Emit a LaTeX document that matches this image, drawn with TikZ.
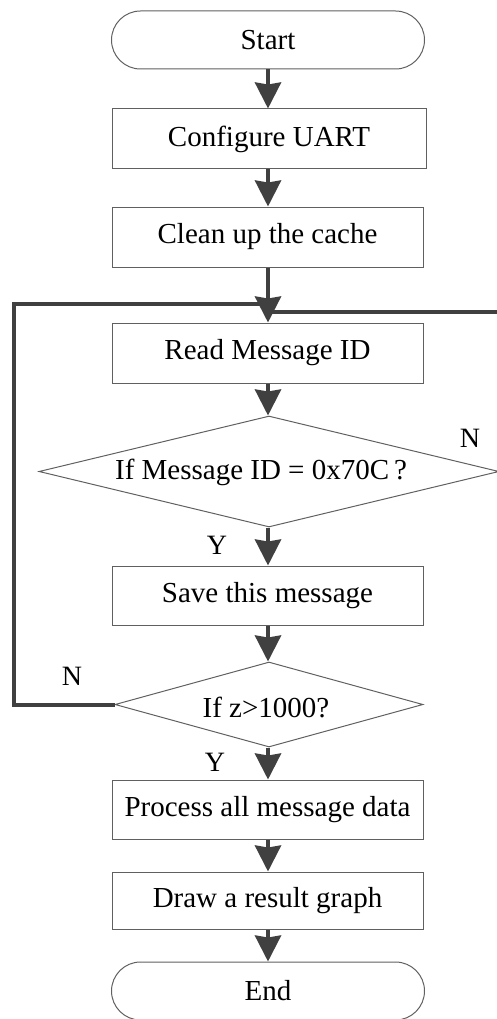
\documentclass[tikz,border=0pt]{standalone}
\usepackage{fontspec}
\setmainfont{Liberation Serif}
\usetikzlibrary{arrows.meta,shapes.geometric}
\definecolor{boxline}{HTML}{606060}
\definecolor{flowline}{HTML}{404040}
\begin{document}
\begin{tikzpicture}[x=1pt,y=-1pt,
  every node/.style={font=\fontsize{29}{34}\selectfont, inner sep=0pt},
  stepbox/.style={draw=boxline, line width=1pt, rectangle, minimum width=311pt},
  terminal/.style={draw=boxline, line width=1pt, rectangle, rounded corners=29pt,
                   minimum width=313pt, minimum height=58pt},
  decision/.style={draw=boxline, line width=1pt, diamond},
  flow/.style={draw=flowline, line width=4pt,
               -{Stealth[length=26pt,width=26pt,inset=2pt]}},
  loopline/.style={draw=flowline, line width=4pt},
  tag/.style={font=\fontsize{28}{32}\selectfont}]
\useasboundingbox (0,0) rectangle (496,1019);

% process nodes
\node[terminal] (start) at (268,40) {Start};
\node[stepbox, minimum height=60pt, minimum width=314pt] (conf) at (269,139) {Configure UART};
\node[stepbox, minimum height=60pt] (clean) at (267.5,237) {Clean up the cache};
\node[stepbox, minimum height=60pt] (read) at (267.5,353) {Read Message ID};
\node[decision, minimum width=460pt, minimum height=111pt] (d1) at (269,471.5) {};
\node (d1text) at (261,472) {If Message ID = 0x70C\,?};
\node[stepbox, minimum height=59pt] (save) at (267.5,595.5) {Save this message};
\node[decision, minimum width=308pt, minimum height=85pt] (d2) at (269,704.5) {};
\node (d2text) at (266,707) {If z>1000?};
\node[stepbox, minimum height=59pt] (proc) at (267.5,809.5) {Process all message data};
\node[stepbox, minimum height=57pt] (graph) at (267.5,900.5) {Draw a result graph};
\node[terminal] (end) at (268,991) {End};

% branch labels
\node[tag] (n1) at (470,438) {N};
\node[tag] (y1) at (217,545) {Y};
\node[tag] (n2) at (72,676) {N};
\node[tag] (y2) at (215,762) {Y};

% junction points of the two loops
\coordinate (jl) at (268,304);
\coordinate (jr) at (268,312);
\coordinate (lc) at (14,304);
\coordinate (rc) at (500,312);

% main flow
\draw[flow] (start.south -| 268,0) -- (conf.north -| 268,0);
\draw[flow] (conf.south -| 268,0) -- (clean.north -| 268,0);
\draw[flow] (clean.south -| 268,0) -- (read.north -| 268,0);
\draw[flow] (read.south -| 268,0) -- (d1.north -| 268,0);
\draw[flow] (d1.south -| 268,0) -- (save.north -| 268,0);
\draw[flow] (save.south -| 268,0) -- (d2.north -| 268,0);
\draw[flow] (d2.south -| 268,0) -- (proc.north -| 268,0);
\draw[flow] (proc.south -| 268,0) -- (graph.north -| 268,0);
\draw[flow] (graph.south -| 268,0) -- (end.north -| 268,0);

% return paths
\draw[loopline] (d2.west) -- (d2.west -| lc) -- (lc) -- (jl);
\draw[loopline] (d1.east) -- (d1.east -| rc) -- (rc) -- (jr);
\end{tikzpicture}
\end{document}
